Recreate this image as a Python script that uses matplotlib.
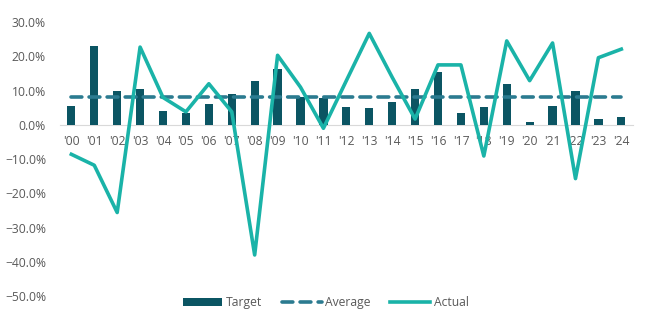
import matplotlib.pyplot as plt
import numpy as np
from matplotlib.ticker import PercentFormatter

years = ["'00", "'01", "'02", "'03", "'04", "'05", "'06", "'07", "'08", "'09",
         "'10", "'11", "'12", "'13", "'14", "'15", "'16", "'17", "'18", "'19",
         "'20", "'21", "'22", "'23", "'24"]
target = [5.6, 22.9, 10.0, 10.5, 4.1, 3.5, 6.1, 9.0, 12.7, 16.2,
          8.2, 7.7, 5.1, 4.8, 6.8, 10.5, 15.4, 3.5, 5.1, 11.9,
          0.8, 5.6, 9.9, 1.8, 2.3]
actual = [-8.6, -11.8, -25.6, 22.7, 8.0, 3.8, 12.0, 3.8, -38.0, 20.3,
          11.0, -1.0, 12.9, 26.7, 13.9, 1.7, 17.5, 17.5, -9.1, 24.5,
          12.9, 23.9, -15.7, 19.6, 22.1]
average = np.mean(target)

plt.rcParams["font.family"] = ["Open Sans", "DejaVu Sans"]
text_color = "#595959"

fig = plt.figure(figsize=(6.51, 3.25), dpi=100)
ax = fig.add_axes([0.092, 0.089, 0.88, 0.843])

x = np.arange(len(years))
bars = ax.bar(x, target, width=0.36, color="#0b5563", label="Target", zorder=2)
avg_line, = ax.plot(x, [average] * len(x), color="#2b7b90", lw=2.6, ls=(0, (3, 2)),
                    label="Average", zorder=3, dash_capstyle="round")
act_line, = ax.plot(x, actual, color="#1ab3a8", lw=2.6, label="Actual", zorder=4)

ax.set_ylim(-50, 30)
ax.set_xlim(-0.5, len(x) - 0.5)
ax.set_yticks(np.arange(-50, 31, 10))
ax.yaxis.set_major_formatter(PercentFormatter(decimals=1))
ax.set_xticks(x)
ax.set_xticklabels(years)

for side in ("top", "right", "left"):
    ax.spines[side].set_visible(False)
ax.spines["bottom"].set_position(("data", 0))
ax.spines["bottom"].set_color("#d9d9d9")
ax.spines["bottom"].set_zorder(1)
ax.tick_params(axis="both", length=0, labelsize=8.7, colors=text_color)
ax.tick_params(axis="x", pad=7)
ax.tick_params(axis="y", pad=10)

ax.legend([bars, avg_line, act_line], ["Target", "Average", "Actual"],
          loc="center", bbox_to_anchor=(0.5, 0.068), bbox_transform=fig.transFigure,
          ncol=3, frameon=False, fontsize=8.7, labelcolor=text_color,
          handlelength=3.3, handleheight=0.6, handletextpad=0.3, columnspacing=1.6)

fig.savefig("out.png", dpi=100)
